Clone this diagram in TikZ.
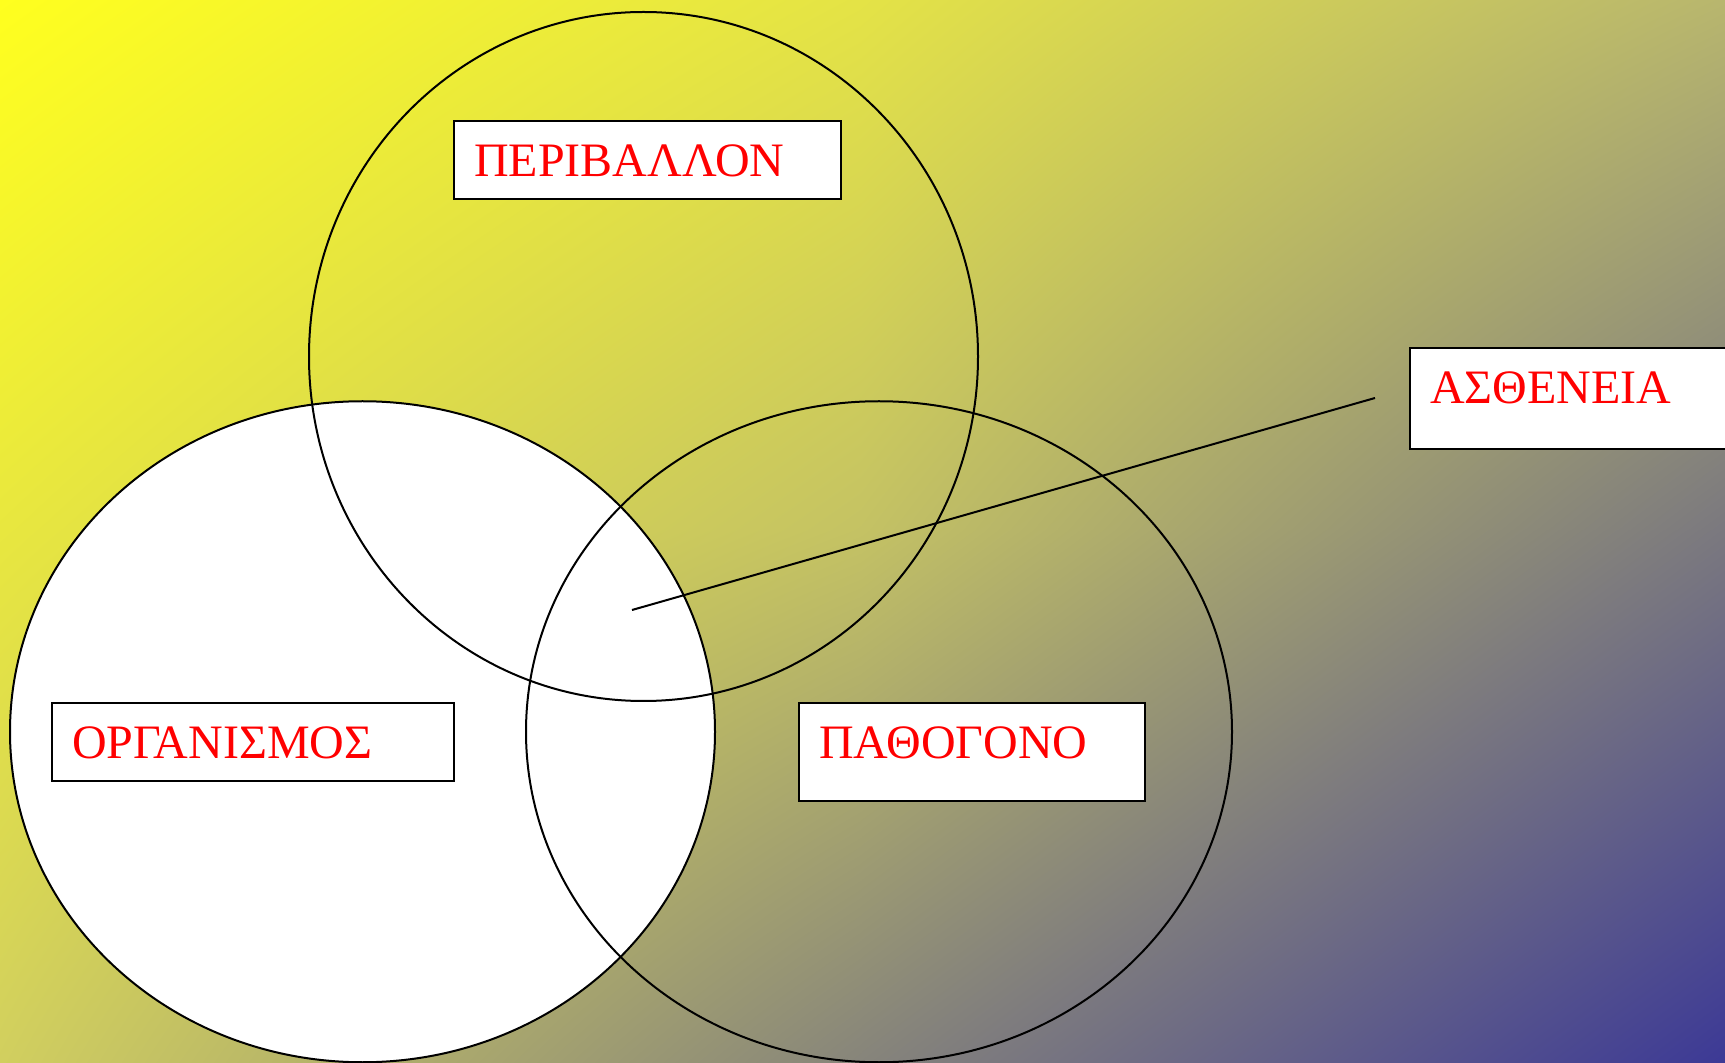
\documentclass[tikz,border=0pt]{standalone}
\usepackage{fontspec}
\setmainfont{Liberation Serif}
\usepackage{tikz}
\usetikzlibrary{shapes.geometric,shadings}
% background grid colours, yellow (top left) to blue (bottom right)
\definecolor{bg00}{RGB}{255,255,30}
\definecolor{bg10}{RGB}{228,227,70}
\definecolor{bg20}{RGB}{184,182,110}
\definecolor{bg01}{RGB}{232,231,63}
\definecolor{bg11}{RGB}{196,194,100}
\definecolor{bg21}{RGB}{122,120,127}
\definecolor{bg02}{RGB}{209,207,95}
\definecolor{bg12}{RGB}{134,132,123}
\definecolor{bg22}{RGB}{60,57,150}

\begin{document}
\begin{tikzpicture}[
  x=0.5pt, y=-0.5pt,
  font=\fontsize{24}{28}\selectfont,
  set/.style={draw, ellipse, line width=1pt, inner sep=0pt},
  tag/.style={draw, line width=1.2pt, fill=white, text=red, anchor=north west, align=left,
    inner xsep=10pt, inner ysep=11.5pt, text height=16pt},
  link/.style={line width=1pt},
]
% ---- background ----
\useasboundingbox (0,0) rectangle (1725,1063);
\clip (0,0) rectangle (1725,1063);
\foreach \c/\r in {0/0,1/0,0/1,1/1} {
  \pgfmathtruncatemacro{\cn}{\c+1}
  \pgfmathtruncatemacro{\rn}{\r+1}
  \shade[upper left=bg\c\r, upper right=bg\cn\r, lower left=bg\c\rn, lower right=bg\cn\rn]
    (862.5*\c-0.5, 531.5*\r-0.5) rectangle (862.5*\c+863, 531.5*\r+532);
}

% ---- the three sets ----
\node[set, fill=white, minimum width=352.5pt, minimum height=330.5pt] (orgset) at (362.5,731.75) {};
\node[set, minimum width=334.5pt, minimum height=344.5pt] (envset) at (643.5,356.5) {};
\node[set, minimum width=353pt, minimum height=330.5pt] (pathset) at (879,731.75) {};

% ---- pointer to the common part ----
\coordinate (hit) at (632,610);
\coordinate (lead) at (1375,398);
\draw[link] (hit) -- (lead);

% ---- labels ----
\node[tag, text width=173.5pt, text depth=0pt] (envtag) at (453,120) {ΠΕΡΙΒΑΛΛΟΝ};
\node[tag, text width=181pt, text depth=0pt] (orgtag) at (51,702) {ΟΡΓΑΝΙΣΜΟΣ};
\node[tag, text width=153pt, text depth=10pt] (pathtag) at (798,702) {ΠΑΘΟΓΟΝΟ};
\node[tag, text width=145.5pt, text depth=11.5pt] (distag) at (1409,347) {ΑΣΘΕΝΕΙΑ};
\end{tikzpicture}
\end{document}
